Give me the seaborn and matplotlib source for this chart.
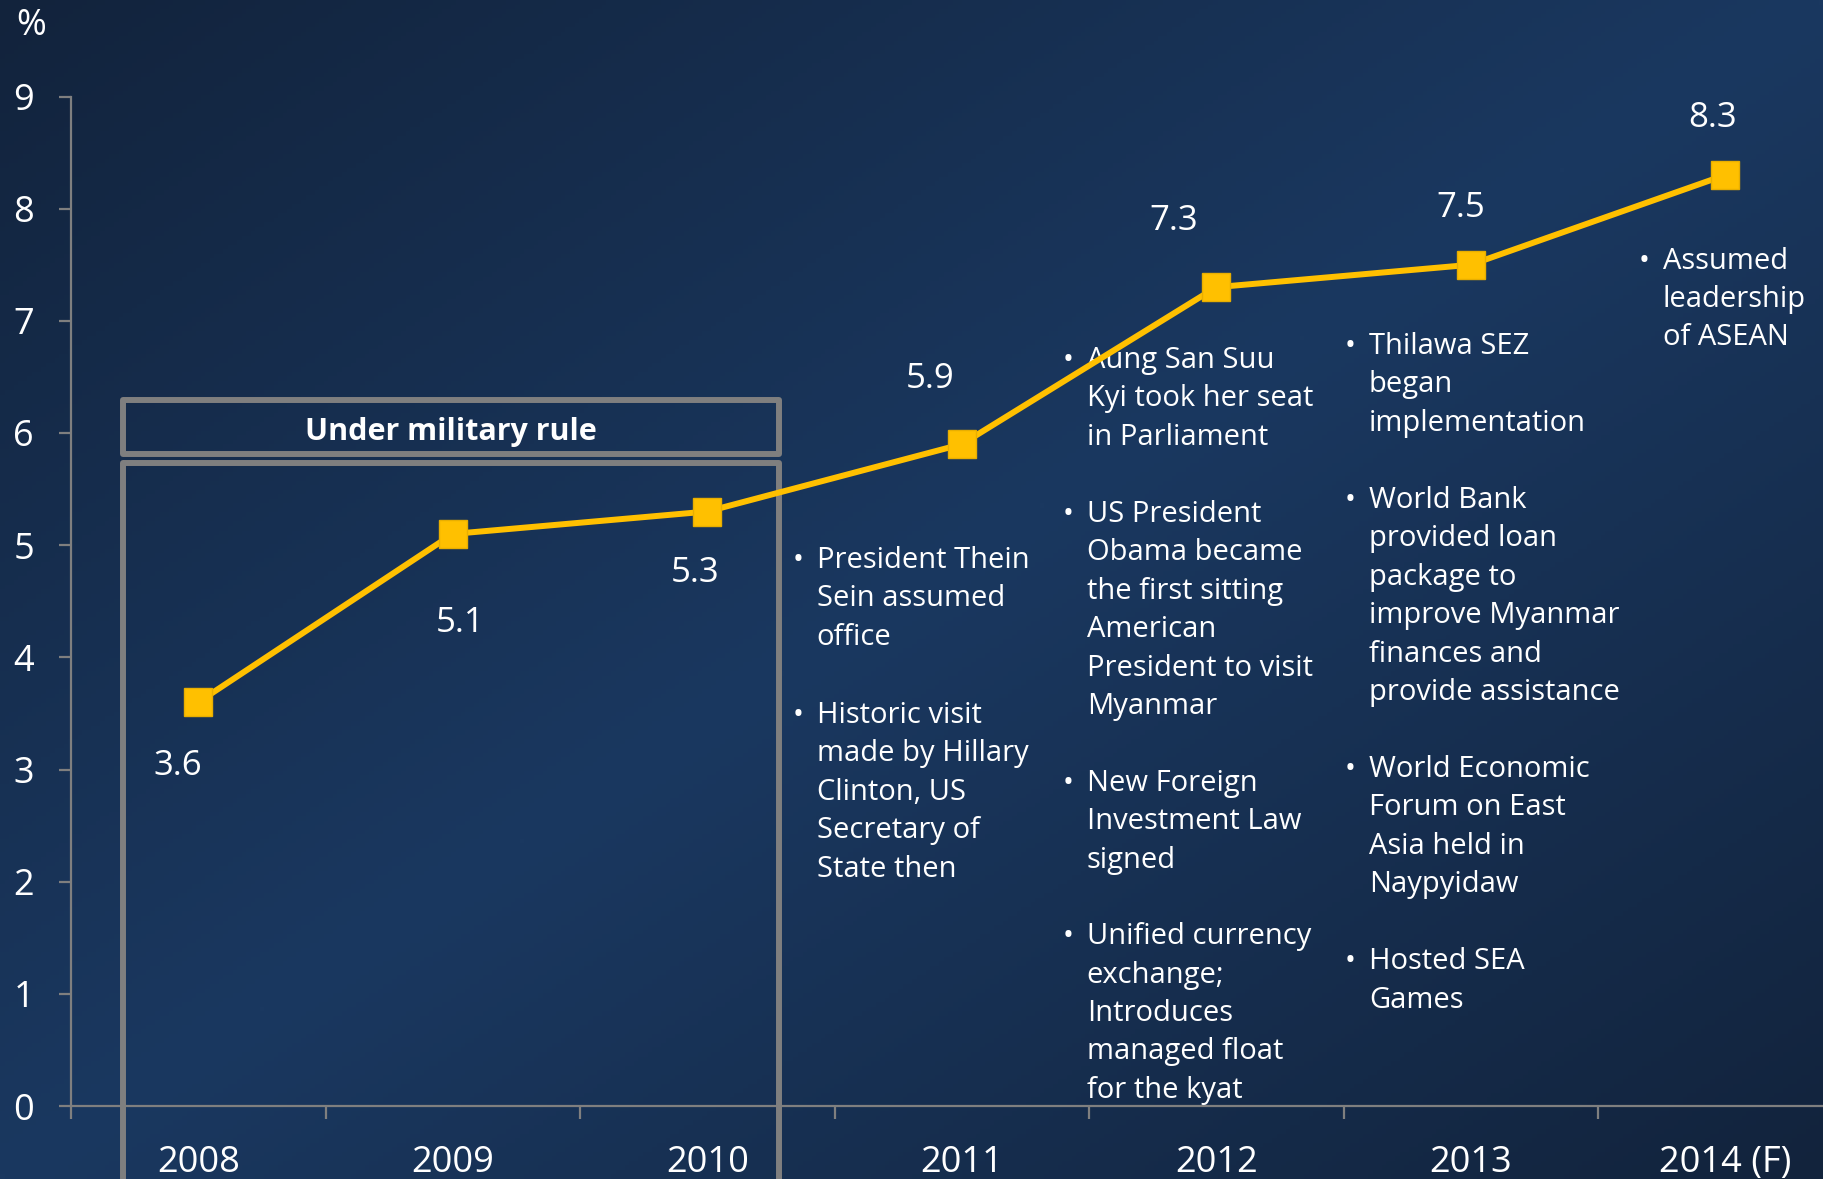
import numpy as np
import pandas as pd
import seaborn as sns
from matplotlib import pyplot as plt
from matplotlib.patches import Rectangle
from matplotlib.ticker import FixedLocator

years = ['2008', '2009', '2010', '2011', '2012', '2013', '2014 (F)']
growth = [3.6, 5.1, 5.3, 5.9, 7.3, 7.5, 8.3]

# label offsets (points) relative to each marker
label_dx = [-15, 5, -9, -23, -31, -7, -9]
label_dy = [-46, -64, -44, 47, 48, 41, 41]

# (x, baseline of first line, text) in data units
events = [
    (2.430, 4.799, 'President Thein\nSein assumed\noffice'),
    (2.430, 3.417, 'Historic visit\nmade by Hillary\nClinton, US\nSecretary of\nState then'),
    (3.491, 6.583, 'Aung San Suu\nKyi took her seat\nin Parliament'),
    (3.491, 5.210, 'US President\nObama became\nthe first sitting\nAmerican\nPresident to visit\nMyanmar'),
    (3.491, 2.810, 'New Foreign\nInvestment Law\nsigned'),
    (3.491, 1.445, 'Unified currency\nexchange;\nIntroduces\nmanaged float\nfor the kyat'),
    (4.600, 6.708, 'Thilawa SEZ\nbegan\nimplementation'),
    (4.600, 5.334, 'World Bank\nprovided loan\npackage to\nimprove Myanmar\nfinances and\nprovide assistance'),
    (4.600, 2.935, 'World Economic\nForum on East\nAsia held in\nNaypyidaw'),
    (4.600, 1.222, 'Hosted SEA\nGames'),
    (5.755, 7.467, 'Assumed\nleadership\nof ASEAN'),
]

GOLD = '#FFC000'
GREY = '#7F7F7F'
W, H = 1824, 1179
ASC = 0.195  # first-line ascent, in y units

sns.set_theme(style='white')
plt.rcParams['font.family'] = ['Open Sans', 'DejaVu Sans']

fig = plt.figure(figsize=(W / 100, H / 100), dpi=100)

# background gradient
bg = fig.add_axes([0, 0, 1, 1], zorder=-5)
u, v = np.meshgrid(np.linspace(0, 1, 400), np.linspace(0, 1, 260))
t = np.abs(u + v - 1)[..., None]
light = np.array([26, 56, 96]) / 255
dark = np.array([18, 35, 60]) / 255
bg.imshow(light * (1 - t) + dark * t, aspect='auto', extent=[0, 1, 0, 1])
bg.axis('off')

ax = fig.add_axes([71 / W, 73 / H, (W - 71) / W, (1106 - 96.5) / H])
ax.set_facecolor('none')

df = pd.DataFrame({'pos': range(len(years)), 'year': years, 'growth': growth})
sns.lineplot(data=df, x='pos', y='growth', ax=ax, color=GOLD, lw=4.3,
             marker='s', markersize=20, markeredgecolor='#E8AE00',
             markeredgewidth=1, sort=False, zorder=5)

for i, (x, y) in enumerate(zip(df.pos, df.growth)):
    ax.annotate(f'{y:.1f}', (x, y), xytext=(label_dx[i], label_dy[i]),
                textcoords='offset points', ha='center', va='center',
                color='white', fontsize=25)

ax.set_xlim(-0.5, 6.388)
ax.set_ylim(0, 9)
ax.set_yticks(range(10))
ax.set_xticks(df.pos)
ax.set_xticklabels(years)
ax.xaxis.set_minor_locator(FixedLocator(np.arange(-0.5, 6.5, 1)))
ax.set_xlabel('')
ax.set_ylabel('')

for side in ['top', 'right']:
    ax.spines[side].set_visible(False)
for side in ['left', 'bottom']:
    ax.spines[side].set_color(GREY)
    ax.spines[side].set_linewidth(1.6)

ax.tick_params(axis='y', which='major', length=8.6, width=1.6, color=GREY,
               labelcolor='white', labelsize=26, pad=18, left=True)
ax.tick_params(axis='x', which='major', length=0, labelcolor='white',
               labelsize=26, pad=28, bottom=True)
ax.tick_params(axis='x', which='minor', length=9.4, width=1.6, color=GREY,
               bottom=True)

# "Under military rule" boxes
box_x0, box_x1 = -0.296, 2.282
ax.add_patch(Rectangle((box_x0, 5.816), box_x1 - box_x0, 6.298 - 5.816,
                       fill=False, ec=GREY, lw=4.3, joinstyle='round',
                       clip_on=False, zorder=3))
ax.add_patch(Rectangle((box_x0, -1.5), box_x1 - box_x0, 5.736 + 1.5,
                       fill=False, ec=GREY, lw=4.3, joinstyle='round',
                       clip_on=False, zorder=3))
ax.text((box_x0 + box_x1) / 2, 6.005, 'Under military rule', ha='center',
        va='center', color='white', fontsize=22, fontweight='bold')

for x, y, txt in events:
    ax.text(x - 0.073, y + ASC, '•', ha='center', va='top', color='white',
            fontsize=21)
    ax.text(x, y + ASC, txt, ha='left', va='top', color='white', fontsize=21,
            linespacing=1.43)

fig.text(31 / W, 1 - 26 / H, '%', ha='center', va='center', color='white',
         fontsize=26)

plt.savefig('out.png', dpi=100, facecolor=fig.get_facecolor())
